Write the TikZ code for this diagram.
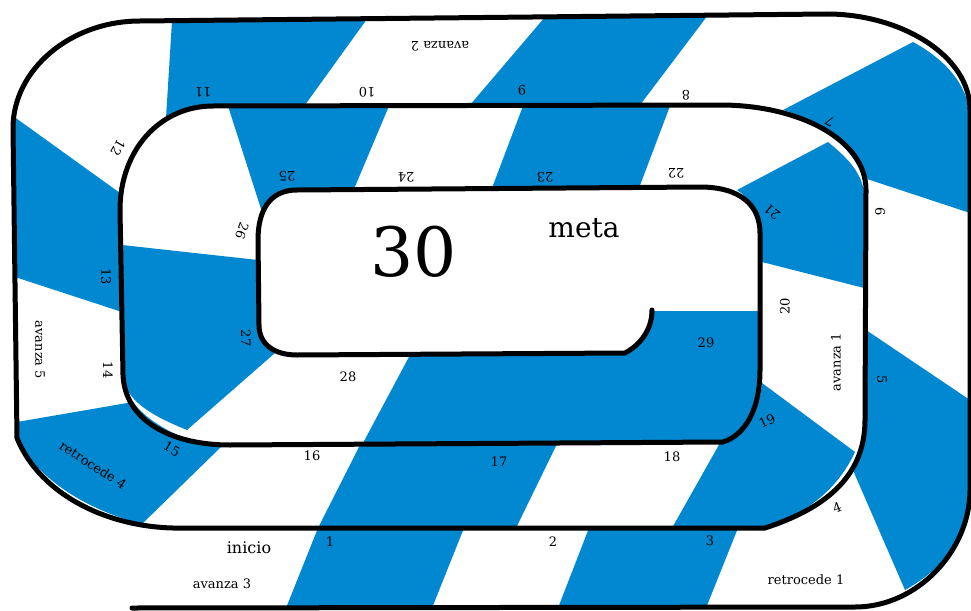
\documentclass[tikz,border=0pt]{standalone}
\usepackage{fontspec}
\setmainfont{DejaVu Serif}
\usepackage{tikz}
\definecolor{casilla}{HTML}{0288D1}

\begin{document}
\begin{tikzpicture}[x=1pt,y=-1pt,
  celda/.style={fill=casilla,draw=none},
  num/.style={font=\fontsize{13}{15}\selectfont,inner sep=1pt},
  aviso/.style={font=\fontsize{13}{15}\selectfont,inner sep=1pt},
  pista/.style={line width=5pt,line join=round,line cap=round}]
\useasboundingbox (0,0) rectangle (971,610);
\fill[celda] (318,528) -- (464,528) -- (432,608) -- (286,608) -- cycle;
\fill[celda] (589,528) -- (738,528) -- (706,608) -- (558,608) -- cycle;
\fill[celda] (866,330) -- (970,400) -- (970,490) .. controls (970,530) and (950,565) .. (905,590) -- (852,468) .. controls (860,455) and (865,440) .. (865,420) -- cycle;
\fill[celda] (783,110) -- (913,42) .. controls (950,62) and (970,90) .. (970,120) -- (970,213) -- (864,178) .. controls (850,145) and (820,120) .. (783,110) -- cycle;
\fill[celda] (545,17) -- (708,15) -- (640,105) -- (470,105) -- cycle;
\fill[celda] (172,21) -- (367,19) -- (305,105) -- (213,106) .. controls (190,106) and (172,112) .. (166,118) -- cycle;
\fill[celda] (13,116) -- (120,193) -- (122,312) -- (15,277) -- cycle;
\fill[celda] (17,422) -- (133,402) .. controls (150,425) and (190,445) .. (222,446) -- (142,524) .. controls (80,508) and (35,475) .. (17,438) -- cycle;
\fill[celda] (360,445) -- (557,444) -- (516,528) -- (318,528) -- cycle;
\fill[celda] (720,443) .. controls (745,435) and (760,410) .. (762,383) -- (855,452) .. controls (835,495) and (800,515) .. (765,528) -- (672,528) -- cycle;
\fill[celda] (737,190) -- (828,142) .. controls (850,160) and (864,175) .. (865,200) -- (864,288) -- (762,262) -- (760,233) .. controls (760,215) and (752,200) .. (737,190) -- cycle;
\fill[celda] (523,106) -- (670,106) -- (639,188) -- (492,188) -- cycle;
\fill[celda] (228,106) -- (389,106) -- (354,189) -- (297,190) .. controls (280,190) and (266,200) .. (262,212) -- cycle;
\fill[celda] (122,245) -- (258,260) -- (259,325) .. controls (259,338) and (265,348) .. (275,353) -- (187,430) .. controls (150,415) and (125,400) .. (123,375) -- cycle;
\fill[celda] (410,355) -- (625,353) .. controls (640,345) and (652,330) .. (652,311) -- (760,311) -- (760,370) .. controls (760,410) and (745,435) .. (723,442) -- (363,443) -- cycle;

\draw[pista] (132,608) -- (855,607) .. controls (918,607) and (970,550) .. (970,490) -- (970,110)
  .. controls (970,55) and (900,14) .. (827,14) -- (140,21) .. controls (70,21) and (13,70) .. (13,128)
  -- (17,438) .. controls (40,495) and (110,530) .. (185,528) -- (765,528)
  .. controls (820,510) and (865,480) .. (865,420) -- (866,190) .. controls (866,140) and (800,105) .. (720,105)
  -- (213,106) .. controls (160,106) and (120,150) .. (120,210) -- (123,375)
  .. controls (125,420) and (170,445) .. (230,445) -- (723,442) .. controls (745,435) and (760,410) .. (760,370)
  -- (760,233) .. controls (760,205) and (740,187) .. (700,187) -- (297,190)
  .. controls (270,190) and (258,210) .. (258,240) -- (259,325) .. controls (259,345) and (275,355) .. (297,355)
  -- (625,353) .. controls (640,345) and (652,330) .. (652,310);

\node[num] (c1) at (330,542) {1};
\node[num] (c2) at (553,542) {2};
\node[num] (c3) at (710,541) {3};
\node[num,rotate=20] (c4) at (837,508) {4};
\node[num,rotate=-90] (c5) at (882,380) {5};
\node[num,rotate=-90] (c6) at (880,212) {6};
\node[num,rotate=150] (c7) at (830,122) {7};
\node[num,rotate=180] (c8) at (686,95) {8};
\node[num,rotate=180] (c9) at (522,90) {9};
\node[num,rotate=180] (c10) at (367,92) {10};
\node[num,rotate=180] (c11) at (203,92) {11};
\node[num,rotate=-120] (c12) at (118,148) {12};
\node[num,rotate=-90] (c13) at (106,277) {13};
\node[num,rotate=-90] (c14) at (108,370) {14};
\node[num,rotate=-30] (c15) at (172,449) {15};
\node[num] (c16) at (312,456) {16};
\node[num] (c17) at (499,462) {17};
\node[num] (c18) at (672,457) {18};
\node[num,rotate=25] (c19) at (767,421) {19};
\node[num,rotate=90] (c20) at (785,306) {20};
\node[num,rotate=140] (c21) at (772,212) {21};
\node[num,rotate=180] (c22) at (676,173) {22};
\node[num,rotate=180] (c23) at (545,177) {23};
\node[num,rotate=180] (c24) at (406,177) {24};
\node[num,rotate=180] (c25) at (287,176) {25};
\node[num,rotate=-110] (c26) at (242,231) {26};
\node[num,rotate=-90] (c27) at (246,338) {27};
\node[num] (c28) at (348,377) {28};
\node[num] (c29) at (706,343) {29};

\node[aviso,rotate=180] (av2) at (440,46) {avanza 2};
\node[aviso,rotate=-90] (av5) at (40,350) {avanza 5};
\node[aviso,rotate=-33] (re4) at (93,465) {retrocede 4};
\node[aviso,font=\fontsize{16}{18}\selectfont] (ini) at (249,548) {inicio};
\node[aviso] (av3) at (222,584) {avanza 3};
\node[aviso] (re1) at (806,580) {retrocede 1};
\node[aviso,rotate=90] (av1) at (836,362) {avanza 1};
\node[font=\fontsize{68}{70}\selectfont] (fin) at (414,252) {30};
\node[font=\fontsize{28}{30}\selectfont] (meta) at (584,228) {meta};
\end{tikzpicture}
\end{document}
